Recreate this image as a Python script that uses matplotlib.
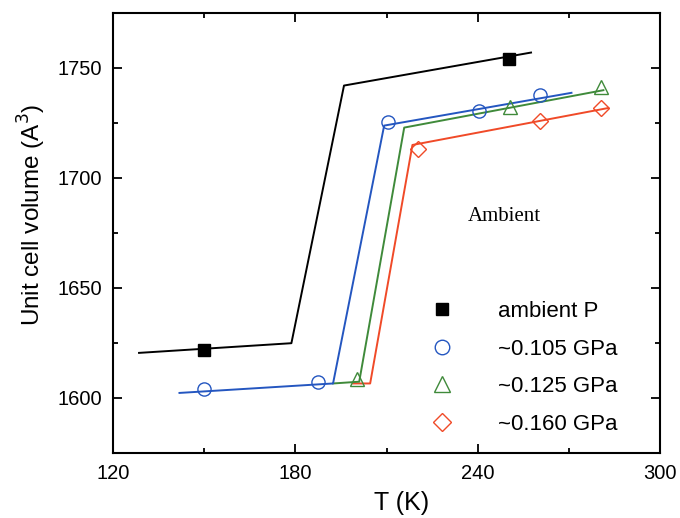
import numpy as np
import matplotlib
matplotlib.use("Agg")
import matplotlib.pyplot as plt
from matplotlib.ticker import MultipleLocator

# measured points
T_amb = [150, 250.4]
V_amb = [1621.7, 1754.0]
T_105 = [150, 187.4, 210.5, 240.5, 260.6]
V_105 = [1604.0, 1607.4, 1725.5, 1730.6, 1737.5]
T_125 = [200.4, 250.5, 280.5]
V_125 = [1608.6, 1732.4, 1741.3]
T_160 = [220.4, 260.6, 280.5]
V_160 = [1713.3, 1725.7, 1732.0]

# guide lines (piecewise fits)
fitT_amb = [128.6, 178.7, 196.0, 257.5]
fitV_amb = [1620.5, 1624.9, 1742.0, 1757.0]
fitT_105 = [141.9, 192.4, 209.2, 270.8]
fitV_105 = [1602.3, 1606.6, 1723.8, 1738.7]
fitT_125 = [192.4, 201.0, 215.8, 281.3]
fitV_125 = [1606.6, 1607.4, 1722.9, 1739.9]
fitT_160 = [199.0, 204.6, 218.5, 282.9]
fitV_160 = [1606.6, 1606.6, 1715.0, 1731.8]

labels = ["ambient P", "~0.105 GPa", "~0.125 GPa", "~0.160 GPa"]

c_blk = "black"
c_blue = "#2456c0"
c_green = "#3f8a3a"
c_red = "#f04a28"

plt.rcParams["font.family"] = ["Liberation Sans", "DejaVu Sans"]

fig = plt.figure(figsize=(6.8, 5.18), dpi=100)
ax = fig.add_axes([0.166, 0.1255, 0.805, 0.8495])

lw = 1.4
ax.plot(fitT_160, fitV_160, color=c_red, lw=lw)
ax.plot(fitT_125, fitV_125, color=c_green, lw=lw)
ax.plot(fitT_105, fitV_105, color=c_blue, lw=lw)
ax.plot(fitT_amb, fitV_amb, color=c_blk, lw=lw)

ax.plot(T_amb, V_amb, ls="none", marker="s", ms=8.5, color=c_blk, label=labels[0])
ax.plot(T_105, V_105, ls="none", marker="o", ms=9.5, mfc="none", mec=c_blue, mew=1.0, label=labels[1])
ax.plot(T_125, V_125, ls="none", marker="^", ms=10, mfc="none", mec=c_green, mew=1.0, label=labels[2])
ax.plot(T_160, V_160, ls="none", marker="D", ms=8.5, mfc="none", mec=c_red, mew=1.0, label=labels[3])

ax.text(248.7, 1682.6, "Ambient", family=["Liberation Serif", "DejaVu Serif"], fontsize=15,
        ha="center", va="center")

ax.set_xlim(120, 300)
ax.set_ylim(1575, 1775)
ax.xaxis.set_major_locator(MultipleLocator(60))
ax.xaxis.set_minor_locator(MultipleLocator(30))
ax.yaxis.set_major_locator(MultipleLocator(50))
ax.yaxis.set_minor_locator(MultipleLocator(25))
ax.tick_params(which="both", direction="in", top=True, right=True, width=1.3, labelsize=14.5, pad=8)
ax.tick_params(which="major", length=6.5)
ax.tick_params(which="minor", length=3.6)
for s in ax.spines.values():
    s.set_linewidth(1.5)

ax.set_xlabel("T (K)", fontsize=18, labelpad=6)
ax.xaxis.label.set_x(0.528)
ax.set_ylabel("Unit cell volume (A$^3$)", fontsize=17.5)
ax.yaxis.set_label_coords(-0.119, 0.541)

ax.legend(loc="upper left", bbox_to_anchor=(0.581, 0.345), frameon=False, fontsize=16,
          handlelength=1.0, handletextpad=2.0, labelspacing=0.74, borderaxespad=0,
          borderpad=0, markerscale=1.1)

fig.savefig("out.png", dpi=100)
